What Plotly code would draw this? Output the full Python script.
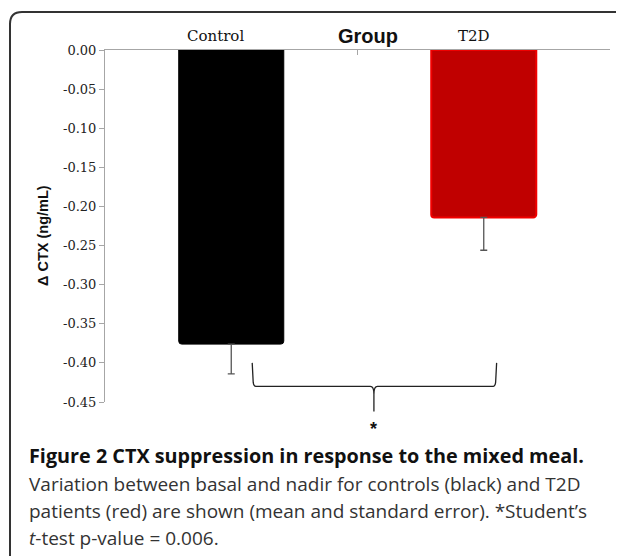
import plotly.graph_objects as go

# ---- data ----
categories = ["Control", "T2D"]
mean_delta_ctx = [-0.376, -0.214]
std_error = [0.038, 0.042]
y_tick_values = [0.00, -0.05, -0.10, -0.15, -0.20, -0.25, -0.30, -0.35, -0.40, -0.45]
y_tick_labels = [f"{v:.2f}" for v in y_tick_values]

OFF = 8  # default page margin of the html body
W, H = 624 - OFF, 556 - OFF
L, R, T, B = 105 - OFF, 14, 50 - OFF, 154
PW, PH = W - L - R, H - T - B
Y0, Y1 = -0.45, 0.0


def px_x(px):
    return (px - OFF - L) / PW


def px_y(py):
    return (H - B - (py - OFF)) / PH


def cat_x(c):
    return (c + 0.5) / len(categories)


def val_y(v):
    return (v - Y0) / (Y1 - Y0)


fig = go.Figure()
fig.add_trace(go.Bar(
    x=categories,
    y=mean_delta_ctx,
    marker=dict(color=["#000000", "#C00000"],
                line=dict(color=["#000000", "#F00000"], width=[1, 2]),
                cornerradius=3),
    error_y=dict(type="data", symmetric=False,
                 array=[0] * len(std_error), arrayminus=std_error,
                 color="#555555", thickness=1.3, width=3.5),
    width=0.416,
    hoverinfo="skip",
))

shapes = []
# significance brace (category units, data values)
bx_l, bx_m, bx_r = 0.083, 0.565, 1.051
by_top, by_mid, by_tip = -0.400, -0.430, -0.462
dxc, dyv = 0.014, 0.005
path = (
    f"M {cat_x(bx_l)},{val_y(by_top)} "
    f"L {cat_x(bx_l + 0.004)},{val_y(by_mid + dyv)} "
    f"Q {cat_x(bx_l + 0.006)},{val_y(by_mid)} {cat_x(bx_l + dxc)},{val_y(by_mid)} "
    f"L {cat_x(bx_m - dxc)},{val_y(by_mid)} "
    f"Q {cat_x(bx_m)},{val_y(by_mid)} {cat_x(bx_m)},{val_y(by_mid - 2 * dyv)} "
    f"L {cat_x(bx_m)},{val_y(by_tip)} "
    f"M {cat_x(bx_m)},{val_y(by_mid - 2 * dyv)} "
    f"Q {cat_x(bx_m)},{val_y(by_mid)} {cat_x(bx_m + dxc)},{val_y(by_mid)} "
    f"L {cat_x(bx_r - dxc)},{val_y(by_mid)} "
    f"Q {cat_x(bx_r - 0.006)},{val_y(by_mid)} {cat_x(bx_r - 0.004)},{val_y(by_mid + dyv)} "
    f"L {cat_x(bx_r)},{val_y(by_top)}"
)
shapes.append(dict(type="path", xref="paper", yref="paper", path=path,
                   line=dict(color="#222222", width=1.3)))

# outer rounded frame
fx, fy, rad = 10, 12, 12
frame = (
    f"M {px_x(fx)},{px_y(560)} L {px_x(fx)},{px_y(fy + rad)} "
    f"Q {px_x(fx)},{px_y(fy)} {px_x(fx + rad)},{px_y(fy)} "
    f"L {px_x(640)},{px_y(fy)}"
)
shapes.append(dict(type="path", xref="paper", yref="paper", path=frame,
                   line=dict(color="#333333", width=2)))

serif = "DejaVu Serif"
annotations = []
for cat, shift in zip(categories, [-16, -10]):
    annotations.append(dict(x=cat, xref="x", y=1, yref="paper", yanchor="bottom",
                            xanchor="center", yshift=3, xshift=shift, text=cat,
                            showarrow=False,
                            font=dict(family=serif, size=15, color="#111111")))
annotations.append(dict(x=px_x(368), y=px_y(36), xref="paper", yref="paper",
                        xanchor="center", yanchor="middle",
                        text="<b>Group</b>", showarrow=False,
                        font=dict(family="Liberation Sans", size=20, color="#111111")))
annotations.append(dict(x=px_x(43), y=px_y(236), xref="paper", yref="paper",
                        xanchor="center", yanchor="middle",
                        text="<b>Δ CTX (ng/mL)</b>", textangle=-90, showarrow=False,
                        font=dict(family="Liberation Sans", size=14.5, color="#111111")))
annotations.append(dict(x=cat_x(bx_m), y=px_y(429), xref="paper", yref="paper",
                        xanchor="center", yanchor="middle",
                        text="<b>*</b>", showarrow=False,
                        font=dict(family="Liberation Sans", size=18, color="#111111")))

cap_font = "Open Sans"
caption_lines = [
    ("<b>Figure 2 CTX suppression in response to the mixed meal.</b>", 455, "#111111", 19.8),
    ("Variation between basal and nadir for controls (black) and T2D", 484, "#333333", 19),
    ("patients (red) are shown (mean and standard error). *Student’s", 511, "#333333", 19),
    ("<i>t</i>-test p-value = 0.006.", 538, "#333333", 19),
]
for txt, yy, col, fs in caption_lines:
    annotations.append(dict(x=px_x(27), y=px_y(yy), xref="paper", yref="paper",
                            xanchor="left", yanchor="middle", text=txt, showarrow=False,
                            font=dict(family=cap_font, size=fs, color=col)))

fig.update_layout(
    width=W, height=H,
    margin=dict(l=L, r=R, t=T, b=B, pad=0),
    paper_bgcolor="white", plot_bgcolor="white",
    showlegend=False,
    shapes=shapes,
    annotations=annotations,
    xaxis=dict(side="top", showline=True, linecolor="#A6A6A6", linewidth=1,
               ticks="inside", tickson="boundaries", ticklen=5, tickcolor="#A6A6A6",
               showticklabels=False, showgrid=False, zeroline=False,
               range=[-0.5, 1.5], fixedrange=True),
    yaxis=dict(range=[Y0, Y1], showline=True, linecolor="#A6A6A6", linewidth=1,
               ticks="outside", ticklen=5, tickcolor="#A6A6A6",
               tickvals=y_tick_values, ticktext=y_tick_labels,
               tickfont=dict(family=serif, size=13, color="#222222"),
               showgrid=False, zeroline=False, fixedrange=True),
)

fig.write_html("out.html", config={"displayModeBar": False})
